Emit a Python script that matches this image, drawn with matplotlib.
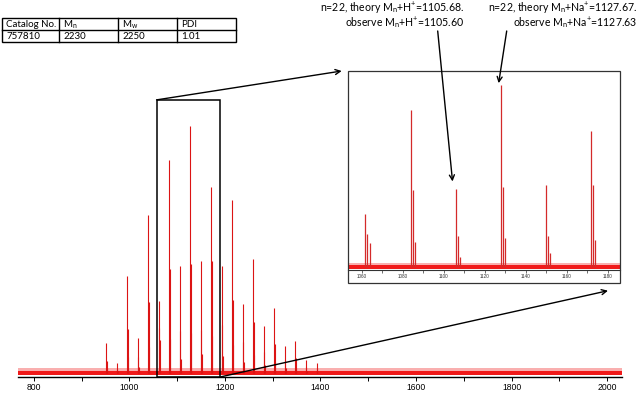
import matplotlib
matplotlib.use("Agg")
import matplotlib.pyplot as plt
from matplotlib.patches import Rectangle, ConnectionPatch
import numpy as np

# ---- data ----
peak_mz = [951.7, 973.7, 995.7, 1017.7, 1039.7, 1061.7, 1083.7, 1105.7, 1127.7,
           1149.7, 1171.7, 1193.7, 1215.7, 1237.7, 1259.7, 1281.7, 1303.7,
           1325.7, 1347.7, 1369.7, 1391.7]
peak_int = [12, 4, 39, 14, 64, 29, 86, 43, 100, 45, 75, 43, 70, 28, 46, 19, 26,
            11, 13, 5, 4]
iso1_ratio = [0.40, 0.40, 0.45, 0.45, 0.45, 0.63, 0.49, 0.39, 0.44, 0.38, 0.60,
              0.45, 0.42, 0.45, 0.45, 0.45, 0.45, 0.45, 0.45, 0.45, 0.45]
iso2_ratio = [0.15, 0.15, 0.16, 0.16, 0.16, 0.46, 0.16, 0.13, 0.16, 0.17, 0.20,
              0.16, 0.16, 0.16, 0.16, 0.16, 0.16, 0.16, 0.16, 0.16, 0.16]
noise_floor = 1.6          # height of baseline noise band (% of max)
inset_noise_floor = 1.4

main_ticks = [800, 1000, 1200, 1400, 1600, 1800, 2000]
main_minor = [900, 1100, 1300, 1500, 1700, 1900]
inset_ticks = [1060, 1080, 1100, 1120, 1140, 1160, 1180]
inset_minor = [1070, 1090, 1110, 1130, 1150, 1170]
zoom_range = [1057, 1190]

table_header = ["Catalog No.", "M$_\\mathregular{n}$", "M$_\\mathregular{w}$", "PDI"]
table_values = ["757810", "2230", "2250", "1.01"]

ann_H = "n=22, theory M$_\\mathregular{n}$+H$^\\mathregular{+}$=1105.68.\nobserve M$_\\mathregular{n}$+H$^\\mathregular{+}$=1105.60"
ann_Na = "n=22, theory M$_\\mathregular{n}$+Na$^\\mathregular{+}$=1127.67.\nobserve M$_\\mathregular{n}$+Na$^\\mathregular{+}$=1127.63"
target_H = 1105.7
target_Na = 1127.7

# ---- styling ----
plt.rcParams['font.family'] = ['Liberation Sans', 'DejaVu Sans']
plt.rcParams['mathtext.fontset'] = 'custom'
plt.rcParams['mathtext.rm'] = 'Lato'
plt.rcParams['mathtext.it'] = 'Lato:italic'
TXT = ['Lato', 'DejaVu Sans']

W, H = 640, 396
fig = plt.figure(figsize=(6.4, 3.96), dpi=100)
fx = lambda px: px / W
fy = lambda py: 1 - py / H

mz = np.array(peak_mz)
it = np.array(peak_int, dtype=float)
stick_x = np.concatenate([mz, mz + 1.0, mz + 2.0])
stick_y = np.concatenate([it, it * np.array(iso1_ratio), it * np.array(iso2_ratio)])

RED = '#f01a1a'
PEAK = '#dc1414'

# ---- main spectrum ----
ax = fig.add_axes([fx(18), fy(377), fx(622) - fx(18), (377 - 90) / H])
ax.set_xlim(767, 2031)
ax.set_ylim(-1.74, 114.4)
ax.fill_between([767, 2031], [-0.9, -0.9], [noise_floor * 0.55] * 2, color=RED, lw=0, zorder=1)
ax.fill_between([767, 2031], [noise_floor * 0.55] * 2, [noise_floor * 1.3] * 2, color=RED, alpha=0.35, lw=0, zorder=1)
ax.vlines(stick_x, 0, stick_y, color=PEAK, lw=0.8, zorder=2)
for s in ['top', 'left', 'right']:
    ax.spines[s].set_visible(False)
ax.spines['bottom'].set_linewidth(1.0)
ax.set_yticks([])
ax.set_xticks(main_ticks)
ax.set_xticks(main_minor, minor=True)
ax.tick_params(axis='x', which='both', direction='out', length=3, width=0.7,
               labelsize=6.2, pad=1.5)
ytop = 110.4
ax.add_patch(Rectangle((zoom_range[0], -1.74), zoom_range[1] - zoom_range[0], ytop + 1.74,
                       fill=False, ec='black', lw=1.1, zorder=5, clip_on=False))

# ---- inset ----
axi = fig.add_axes([fx(348), fy(270), fx(620) - fx(348), (270 - 71) / H])
axi.set_xlim(1053.2, 1185.9)
axi.set_ylim(-1.65, 107.7)
axi.fill_between([1053.2, 1185.9], [-1.1, -1.1], [inset_noise_floor * 0.6] * 2, color=RED, lw=0)
axi.fill_between([1053.2, 1185.9], [inset_noise_floor * 0.6] * 2, [inset_noise_floor * 1.4] * 2, color=RED, alpha=0.35, lw=0)
axi.vlines(stick_x, 0, stick_y, color='#d42a2a', lw=0.9)
for s in ['top', 'left', 'right']:
    axi.spines[s].set_visible(False)
axi.spines['bottom'].set_color('#333333')
axi.spines['bottom'].set_linewidth(0.8)
axi.set_yticks([])
axi.set_xticks(inset_ticks)
axi.set_xticks(inset_minor, minor=True)
axi.tick_params(axis='x', which='both', direction='out', length=2, width=0.5,
                labelsize=3.3, pad=1.2, colors='#333333')
fig.add_artist(Rectangle((fx(348), fy(283)), fx(620) - fx(348), (283 - 71) / H,
                         transform=fig.transFigure, fill=False, ec='#333333', lw=0.9))

# ---- connectors from zoom box to inset ----
c1 = ConnectionPatch(xyA=(zoom_range[0], ytop), coordsA=ax.transData,
                     xyB=(fx(341.7), fy(71)), coordsB=fig.transFigure,
                     arrowstyle='->', mutation_scale=9, lw=1.0, color='black',
                     shrinkA=0, shrinkB=0)
fig.add_artist(c1)
c2 = ConnectionPatch(xyA=(zoom_range[1], -1.74), coordsA=ax.transData,
                     xyB=(fx(608), fy(290.7)), coordsB=fig.transFigure,
                     arrowstyle='->', mutation_scale=9, lw=1.0, color='black',
                     shrinkA=0, shrinkB=0)
fig.add_artist(c2)

# ---- annotations ----
fig.text(fx(464), fy(15.5), ann_H, ha='right', va='center', multialignment='right',
         fontsize=7.6, family=TXT, linespacing=0.95)
fig.text(fx(637.5), fy(15.5), ann_Na, ha='right', va='center', multialignment='right',
         fontsize=7.6, family=TXT, linespacing=0.95)

iH = peak_mz.index(target_H)
iNa = peak_mz.index(target_Na)
a1 = ConnectionPatch(xyA=(fx(437.7), fy(31)), coordsA=fig.transFigure,
                     xyB=(target_H - 1.5, peak_int[iH] + 4), coordsB=axi.transData,
                     arrowstyle='->', mutation_scale=9, lw=1.0, color='black',
                     shrinkA=0, shrinkB=0)
fig.add_artist(a1)
a2 = ConnectionPatch(xyA=(fx(506.7), fy(31)), coordsA=fig.transFigure,
                     xyB=(target_Na - 1.0, peak_int[iNa] + 1), coordsB=axi.transData,
                     arrowstyle='->', mutation_scale=9, lw=1.0, color='black',
                     shrinkA=0, shrinkB=0)
fig.add_artist(a2)

# ---- table ----
col_edges = [2, 59.3, 118.3, 176.7, 235.7]
row_edges = [17.7, 30, 42.3]
fig.add_artist(Rectangle((fx(col_edges[0]), fy(row_edges[-1])),
                         fx(col_edges[-1]) - fx(col_edges[0]), (row_edges[-1] - row_edges[0]) / H,
                         transform=fig.transFigure, fill=False, ec='black', lw=1.0))
for xe in col_edges[1:-1]:
    fig.add_artist(plt.Line2D([fx(xe), fx(xe)], [fy(row_edges[0]), fy(row_edges[-1])],
                              transform=fig.transFigure, color='black', lw=1.0))
fig.add_artist(plt.Line2D([fx(col_edges[0]), fx(col_edges[-1])], [fy(row_edges[1])] * 2,
                          transform=fig.transFigure, color='black', lw=1.0))
for j, (h, v) in enumerate(zip(table_header, table_values)):
    fig.text(fx(col_edges[j] + 4), fy((row_edges[0] + row_edges[1]) / 2 + 0.5), h,
             ha='left', va='center', fontsize=7.0, family=TXT)
    fig.text(fx(col_edges[j] + 4), fy((row_edges[1] + row_edges[2]) / 2 + 0.5), v,
             ha='left', va='center', fontsize=7.0, family=TXT)

fig.savefig('out.png', dpi=100)
